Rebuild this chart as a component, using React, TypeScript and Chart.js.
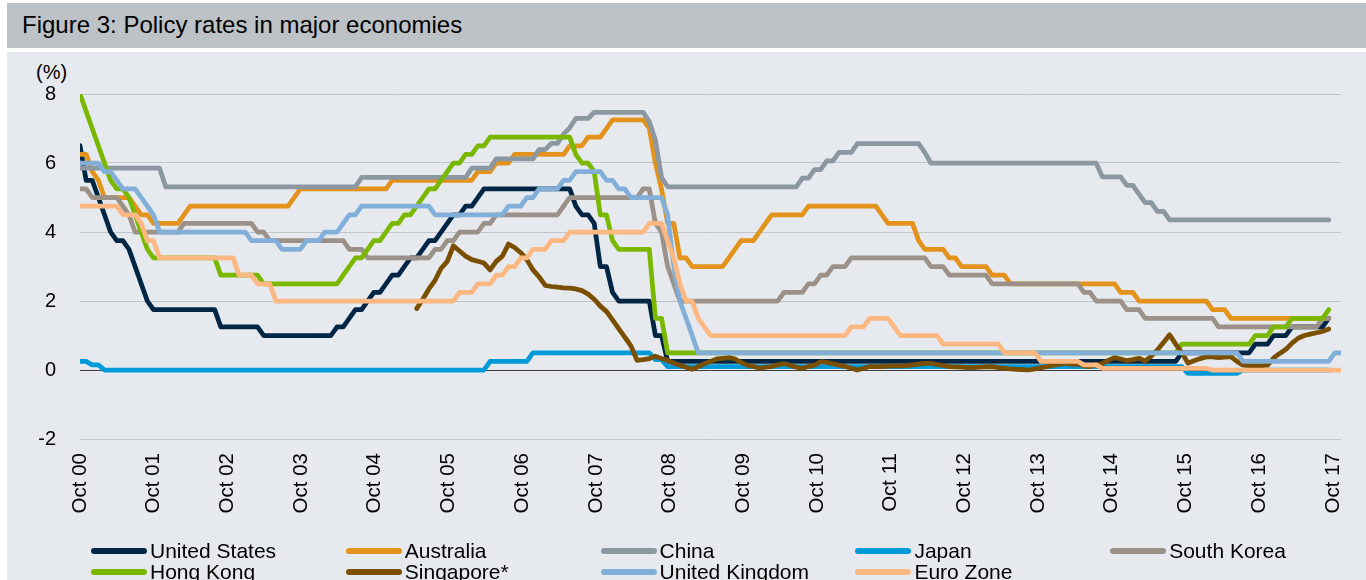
import React, { useEffect, useRef } from "react";
import { Chart, registerables } from "chart.js";

Chart.register(...registerables);

const FONT = "'Liberation Sans', Arial, Helvetica, sans-serif";

// x positions are month indices; tick labels as printed on the original axis
const TICK_LABELS = [
  "Oct 00", "Oct 01", "Oct 02", "Oct 03", "Oct 04", "Oct 05", "Oct 06", "Oct 07", "Oct 08",
  "Oct 09", "Oct 10", "Oct 11", "Oct 12", "Oct 13", "Oct 14", "Oct 15", "Oct 16", "Oct 17",
];
const TICK_STEP = 12.04;
const X_MAX = 206;

// monthly policy rates (%), first value = first point of the chart
const US = [
  6.5,
  5.5, 5.5, 5.0, 4.5, 4.0, 3.75, 3.75, 3.5, 3.0, 2.5, 2.0, 1.75,
  1.75, 1.75, 1.75, 1.75, 1.75, 1.75, 1.75, 1.75, 1.75, 1.75, 1.25, 1.25,
  1.25, 1.25, 1.25, 1.25, 1.25, 1.0, 1.0, 1.0, 1.0, 1.0, 1.0, 1.0,
  1.0, 1.0, 1.0, 1.0, 1.0, 1.25, 1.25, 1.5, 1.75, 1.75, 2.0, 2.25,
  2.25, 2.5, 2.75, 2.75, 3.0, 3.25, 3.25, 3.5, 3.75, 3.75, 4.0, 4.25,
  4.5, 4.5, 4.75, 4.75, 5.0, 5.25, 5.25, 5.25, 5.25, 5.25, 5.25, 5.25,
  5.25, 5.25, 5.25, 5.25, 5.25, 5.25, 5.25, 5.25, 4.75, 4.5, 4.5, 4.25,
  3.0, 3.0, 2.25, 2.0, 2.0, 2.0, 2.0, 2.0, 2.0, 1.0, 1.0, 0.25,
  0.25, 0.25, 0.25, 0.25, 0.25, 0.25, 0.25, 0.25, 0.25, 0.25, 0.25, 0.25,
  0.25, 0.25, 0.25, 0.25, 0.25, 0.25, 0.25, 0.25, 0.25, 0.25, 0.25, 0.25,
  0.25, 0.25, 0.25, 0.25, 0.25, 0.25, 0.25, 0.25, 0.25, 0.25, 0.25, 0.25,
  0.25, 0.25, 0.25, 0.25, 0.25, 0.25, 0.25, 0.25, 0.25, 0.25, 0.25, 0.25,
  0.25, 0.25, 0.25, 0.25, 0.25, 0.25, 0.25, 0.25, 0.25, 0.25, 0.25, 0.25,
  0.25, 0.25, 0.25, 0.25, 0.25, 0.25, 0.25, 0.25, 0.25, 0.25, 0.25, 0.25,
  0.25, 0.25, 0.25, 0.25, 0.25, 0.25, 0.25, 0.25, 0.25, 0.25, 0.25, 0.5,
  0.5, 0.5, 0.5, 0.5, 0.5, 0.5, 0.5, 0.5, 0.5, 0.5, 0.5, 0.75,
  0.75, 0.75, 1.0, 1.0, 1.0, 1.25, 1.25, 1.25, 1.25, 1.25, 1.25, 1.5,
];

const AUSTRALIA = [
  6.25,
  6.25, 5.75, 5.5, 5.0, 5.0, 5.0, 5.0, 5.0, 4.75, 4.5, 4.5, 4.25,
  4.25, 4.25, 4.25, 4.25, 4.5, 4.75, 4.75, 4.75, 4.75, 4.75, 4.75, 4.75,
  4.75, 4.75, 4.75, 4.75, 4.75, 4.75, 4.75, 4.75, 4.75, 4.75, 5.0, 5.25,
  5.25, 5.25, 5.25, 5.25, 5.25, 5.25, 5.25, 5.25, 5.25, 5.25, 5.25, 5.25,
  5.25, 5.25, 5.5, 5.5, 5.5, 5.5, 5.5, 5.5, 5.5, 5.5, 5.5, 5.5,
  5.5, 5.5, 5.5, 5.5, 5.75, 5.75, 5.75, 6.0, 6.0, 6.0, 6.25, 6.25,
  6.25, 6.25, 6.25, 6.25, 6.25, 6.25, 6.25, 6.5, 6.5, 6.5, 6.75, 6.75,
  6.75, 7.0, 7.25, 7.25, 7.25, 7.25, 7.25, 7.25, 7.0, 6.0, 5.25, 4.25,
  4.25, 3.25, 3.25, 3.0, 3.0, 3.0, 3.0, 3.0, 3.0, 3.25, 3.5, 3.75,
  3.75, 3.75, 4.0, 4.25, 4.5, 4.5, 4.5, 4.5, 4.5, 4.5, 4.75, 4.75,
  4.75, 4.75, 4.75, 4.75, 4.75, 4.75, 4.75, 4.75, 4.75, 4.75, 4.5, 4.25,
  4.25, 4.25, 4.25, 4.25, 3.75, 3.5, 3.5, 3.5, 3.5, 3.25, 3.25, 3.0,
  3.0, 3.0, 3.0, 3.0, 2.75, 2.75, 2.75, 2.5, 2.5, 2.5, 2.5, 2.5,
  2.5, 2.5, 2.5, 2.5, 2.5, 2.5, 2.5, 2.5, 2.5, 2.5, 2.5, 2.5,
  2.5, 2.25, 2.25, 2.25, 2.0, 2.0, 2.0, 2.0, 2.0, 2.0, 2.0, 2.0,
  2.0, 2.0, 2.0, 2.0, 1.75, 1.75, 1.75, 1.5, 1.5, 1.5, 1.5, 1.5,
  1.5, 1.5, 1.5, 1.5, 1.5, 1.5, 1.5, 1.5, 1.5, 1.5, 1.5, 1.5,
];

const CHINA = [
  5.85,
  5.85, 5.85, 5.85, 5.85, 5.85, 5.85, 5.85, 5.85, 5.85, 5.85, 5.85, 5.85,
  5.85, 5.31, 5.31, 5.31, 5.31, 5.31, 5.31, 5.31, 5.31, 5.31, 5.31, 5.31,
  5.31, 5.31, 5.31, 5.31, 5.31, 5.31, 5.31, 5.31, 5.31, 5.31, 5.31, 5.31,
  5.31, 5.31, 5.31, 5.31, 5.31, 5.31, 5.31, 5.31, 5.31, 5.58, 5.58, 5.58,
  5.58, 5.58, 5.58, 5.58, 5.58, 5.58, 5.58, 5.58, 5.58, 5.58, 5.58, 5.58,
  5.58, 5.58, 5.58, 5.85, 5.85, 5.85, 5.85, 6.12, 6.12, 6.12, 6.12, 6.12,
  6.12, 6.12, 6.39, 6.39, 6.57, 6.57, 6.84, 7.02, 7.29, 7.29, 7.29, 7.47,
  7.47, 7.47, 7.47, 7.47, 7.47, 7.47, 7.47, 7.47, 7.2, 6.66, 5.58, 5.31,
  5.31, 5.31, 5.31, 5.31, 5.31, 5.31, 5.31, 5.31, 5.31, 5.31, 5.31, 5.31,
  5.31, 5.31, 5.31, 5.31, 5.31, 5.31, 5.31, 5.31, 5.31, 5.56, 5.56, 5.81,
  5.81, 6.06, 6.06, 6.31, 6.31, 6.31, 6.56, 6.56, 6.56, 6.56, 6.56, 6.56,
  6.56, 6.56, 6.56, 6.56, 6.56, 6.31, 6.0, 6.0, 6.0, 6.0, 6.0, 6.0,
  6.0, 6.0, 6.0, 6.0, 6.0, 6.0, 6.0, 6.0, 6.0, 6.0, 6.0, 6.0,
  6.0, 6.0, 6.0, 6.0, 6.0, 6.0, 6.0, 6.0, 6.0, 6.0, 5.6, 5.6,
  5.6, 5.6, 5.35, 5.35, 5.1, 4.85, 4.85, 4.6, 4.6, 4.35, 4.35, 4.35,
  4.35, 4.35, 4.35, 4.35, 4.35, 4.35, 4.35, 4.35, 4.35, 4.35, 4.35, 4.35,
  4.35, 4.35, 4.35, 4.35, 4.35, 4.35, 4.35, 4.35, 4.35, 4.35, 4.35, 4.35,
];

const JAPAN = [
  0.25,
  0.25, 0.15, 0.15, 0.0, 0.0, 0.0, 0.0, 0.0, 0.0, 0.0, 0.0, 0.0,
  0.0, 0.0, 0.0, 0.0, 0.0, 0.0, 0.0, 0.0, 0.0, 0.0, 0.0, 0.0,
  0.0, 0.0, 0.0, 0.0, 0.0, 0.0, 0.0, 0.0, 0.0, 0.0, 0.0, 0.0,
  0.0, 0.0, 0.0, 0.0, 0.0, 0.0, 0.0, 0.0, 0.0, 0.0, 0.0, 0.0,
  0.0, 0.0, 0.0, 0.0, 0.0, 0.0, 0.0, 0.0, 0.0, 0.0, 0.0, 0.0,
  0.0, 0.0, 0.0, 0.0, 0.0, 0.0, 0.25, 0.25, 0.25, 0.25, 0.25, 0.25,
  0.25, 0.5, 0.5, 0.5, 0.5, 0.5, 0.5, 0.5, 0.5, 0.5, 0.5, 0.5,
  0.5, 0.5, 0.5, 0.5, 0.5, 0.5, 0.5, 0.5, 0.5, 0.3, 0.3, 0.1,
  0.1, 0.1, 0.1, 0.1, 0.1, 0.1, 0.1, 0.1, 0.1, 0.1, 0.1, 0.1,
  0.1, 0.1, 0.1, 0.1, 0.1, 0.1, 0.1, 0.1, 0.1, 0.1, 0.1, 0.1,
  0.1, 0.1, 0.1, 0.1, 0.1, 0.1, 0.1, 0.1, 0.1, 0.1, 0.1, 0.1,
  0.1, 0.1, 0.1, 0.1, 0.1, 0.1, 0.1, 0.1, 0.1, 0.1, 0.1, 0.1,
  0.1, 0.1, 0.1, 0.1, 0.1, 0.1, 0.1, 0.1, 0.1, 0.1, 0.1, 0.1,
  0.1, 0.1, 0.1, 0.1, 0.1, 0.1, 0.1, 0.1, 0.1, 0.1, 0.1, 0.1,
  0.1, 0.1, 0.1, 0.1, 0.1, 0.1, 0.1, 0.1, 0.1, 0.1, 0.1, 0.1,
  -0.1, -0.1, -0.1, -0.1, -0.1, -0.1, -0.1, -0.1, -0.1, 0.0, 0.0, 0.0,
  0.0, 0.0, 0.0, 0.0, 0.0, 0.0, 0.0, 0.0, 0.0, 0.0, 0.0, 0.0,
];

const SOUTH_KOREA = [
  5.25,
  5.25, 5.0, 5.0, 5.0, 5.0, 5.0, 4.75, 4.5, 4.0, 4.0, 4.0, 4.0,
  4.0, 4.0, 4.0, 4.0, 4.25, 4.25, 4.25, 4.25, 4.25, 4.25, 4.25, 4.25,
  4.25, 4.25, 4.25, 4.25, 4.0, 4.0, 3.75, 3.75, 3.75, 3.75, 3.75, 3.75,
  3.75, 3.75, 3.75, 3.75, 3.75, 3.75, 3.75, 3.5, 3.5, 3.5, 3.25, 3.25,
  3.25, 3.25, 3.25, 3.25, 3.25, 3.25, 3.25, 3.25, 3.25, 3.5, 3.5, 3.75,
  3.75, 4.0, 4.0, 4.0, 4.0, 4.25, 4.25, 4.5, 4.5, 4.5, 4.5, 4.5,
  4.5, 4.5, 4.5, 4.5, 4.5, 4.5, 4.75, 5.0, 5.0, 5.0, 5.0, 5.0,
  5.0, 5.0, 5.0, 5.0, 5.0, 5.0, 5.0, 5.25, 5.25, 4.25, 4.0, 3.0,
  2.5, 2.0, 2.0, 2.0, 2.0, 2.0, 2.0, 2.0, 2.0, 2.0, 2.0, 2.0,
  2.0, 2.0, 2.0, 2.0, 2.0, 2.0, 2.25, 2.25, 2.25, 2.25, 2.5, 2.5,
  2.75, 2.75, 3.0, 3.0, 3.0, 3.25, 3.25, 3.25, 3.25, 3.25, 3.25, 3.25,
  3.25, 3.25, 3.25, 3.25, 3.25, 3.25, 3.0, 3.0, 3.0, 2.75, 2.75, 2.75,
  2.75, 2.75, 2.75, 2.75, 2.5, 2.5, 2.5, 2.5, 2.5, 2.5, 2.5, 2.5,
  2.5, 2.5, 2.5, 2.5, 2.5, 2.5, 2.5, 2.25, 2.25, 2.0, 2.0, 2.0,
  2.0, 2.0, 1.75, 1.75, 1.75, 1.5, 1.5, 1.5, 1.5, 1.5, 1.5, 1.5,
  1.5, 1.5, 1.5, 1.5, 1.5, 1.25, 1.25, 1.25, 1.25, 1.25, 1.25, 1.25,
  1.25, 1.25, 1.25, 1.25, 1.25, 1.25, 1.25, 1.25, 1.25, 1.25, 1.5, 1.5,
];

const HONG_KONG = [
  8.0,
  7.5, 7.0, 6.5, 6.0, 5.5, 5.25, 5.25, 5.0, 4.5, 4.0, 3.5, 3.25,
  3.25, 3.25, 3.25, 3.25, 3.25, 3.25, 3.25, 3.25, 3.25, 3.25, 2.75, 2.75,
  2.75, 2.75, 2.75, 2.75, 2.75, 2.5, 2.5, 2.5, 2.5, 2.5, 2.5, 2.5,
  2.5, 2.5, 2.5, 2.5, 2.5, 2.5, 2.75, 3.0, 3.25, 3.25, 3.5, 3.75,
  3.75, 4.0, 4.25, 4.25, 4.5, 4.5, 4.75, 5.0, 5.25, 5.25, 5.5, 5.75,
  6.0, 6.0, 6.25, 6.25, 6.5, 6.5, 6.75, 6.75, 6.75, 6.75, 6.75, 6.75,
  6.75, 6.75, 6.75, 6.75, 6.75, 6.75, 6.75, 6.75, 6.25, 6.0, 6.0, 5.75,
  4.5, 4.5, 3.75, 3.5, 3.5, 3.5, 3.5, 3.5, 3.5, 1.5, 1.5, 0.5,
  0.5, 0.5, 0.5, 0.5, 0.5, 0.5, 0.5, 0.5, 0.5, 0.5, 0.5, 0.5,
  0.5, 0.5, 0.5, 0.5, 0.5, 0.5, 0.5, 0.5, 0.5, 0.5, 0.5, 0.5,
  0.5, 0.5, 0.5, 0.5, 0.5, 0.5, 0.5, 0.5, 0.5, 0.5, 0.5, 0.5,
  0.5, 0.5, 0.5, 0.5, 0.5, 0.5, 0.5, 0.5, 0.5, 0.5, 0.5, 0.5,
  0.5, 0.5, 0.5, 0.5, 0.5, 0.5, 0.5, 0.5, 0.5, 0.5, 0.5, 0.5,
  0.5, 0.5, 0.5, 0.5, 0.5, 0.5, 0.5, 0.5, 0.5, 0.5, 0.5, 0.5,
  0.5, 0.5, 0.5, 0.5, 0.5, 0.5, 0.5, 0.5, 0.5, 0.5, 0.5, 0.75,
  0.75, 0.75, 0.75, 0.75, 0.75, 0.75, 0.75, 0.75, 0.75, 0.75, 0.75, 1.0,
  1.0, 1.0, 1.25, 1.25, 1.25, 1.5, 1.5, 1.5, 1.5, 1.5, 1.5, 1.75,
];

const SINGAPORE_START = 55;
const SINGAPORE = [
  1.78, 2.05, 2.35, 2.6, 2.95, 3.15, 3.6, 3.45, 3.3, 3.2,
  3.15, 3.1, 2.9, 3.15, 3.3, 3.65, 3.55, 3.4, 3.2, 2.9,
  2.7, 2.45, 2.42, 2.4, 2.38, 2.37, 2.35, 2.3, 2.2, 2.05,
  1.85, 1.7, 1.45, 1.2, 0.95, 0.7, 0.28, 0.3, 0.33, 0.4,
  0.33, 0.28, 0.2, 0.14, 0.08, 0.02, 0.1, 0.18, 0.25, 0.32,
  0.34, 0.36, 0.32, 0.22, 0.14, 0.1, 0.05, 0.08, 0.1, 0.15,
  0.19, 0.14, 0.08, 0.05, 0.1, 0.14, 0.24, 0.22, 0.18, 0.14,
  0.1, 0.05, 0.0, 0.05, 0.1, 0.1, 0.1, 0.11, 0.12, 0.12,
  0.13, 0.15, 0.17, 0.19, 0.19, 0.16, 0.13, 0.1, 0.09, 0.08,
  0.07, 0.07, 0.08, 0.09, 0.1, 0.07, 0.05, 0.03, 0.02, 0.01,
  0.0, 0.03, 0.07, 0.1, 0.14, 0.17, 0.2, 0.16, 0.18, 0.12,
  0.1, 0.15, 0.19, 0.28, 0.36, 0.32, 0.27, 0.3, 0.34, 0.26,
  0.4, 0.58, 0.8, 1.02, 0.75, 0.5, 0.2, 0.27, 0.33, 0.38,
  0.38, 0.36, 0.37, 0.39, 0.25, 0.14, 0.13, 0.13, 0.13, 0.14,
  0.35, 0.48, 0.6, 0.78, 0.92, 1.0, 1.04, 1.08, 1.12, 1.19,
];

const UNITED_KINGDOM = [
  6.0, 6.0, 6.0,
  6.0, 5.75, 5.75, 5.5, 5.25, 5.25, 5.25, 5.0, 4.75, 4.5, 4.0, 4.0,
  4.0, 4.0, 4.0, 4.0, 4.0, 4.0, 4.0, 4.0, 4.0, 4.0, 4.0, 4.0,
  4.0, 3.75, 3.75, 3.75, 3.75, 3.75, 3.5, 3.5, 3.5, 3.5, 3.75, 3.75,
  3.75, 4.0, 4.0, 4.0, 4.25, 4.5, 4.5, 4.75, 4.75, 4.75, 4.75, 4.75,
  4.75, 4.75, 4.75, 4.75, 4.75, 4.75, 4.75, 4.5, 4.5, 4.5, 4.5, 4.5,
  4.5, 4.5, 4.5, 4.5, 4.5, 4.5, 4.5, 4.75, 4.75, 4.75, 5.0, 5.0,
  5.25, 5.25, 5.25, 5.25, 5.5, 5.5, 5.75, 5.75, 5.75, 5.75, 5.75, 5.5,
  5.5, 5.25, 5.25, 5.0, 5.0, 5.0, 5.0, 5.0, 5.0, 4.5, 3.0, 2.0,
  1.5, 1.0, 0.5, 0.5, 0.5, 0.5, 0.5, 0.5, 0.5, 0.5, 0.5, 0.5,
  0.5, 0.5, 0.5, 0.5, 0.5, 0.5, 0.5, 0.5, 0.5, 0.5, 0.5, 0.5,
  0.5, 0.5, 0.5, 0.5, 0.5, 0.5, 0.5, 0.5, 0.5, 0.5, 0.5, 0.5,
  0.5, 0.5, 0.5, 0.5, 0.5, 0.5, 0.5, 0.5, 0.5, 0.5, 0.5, 0.5,
  0.5, 0.5, 0.5, 0.5, 0.5, 0.5, 0.5, 0.5, 0.5, 0.5, 0.5, 0.5,
  0.5, 0.5, 0.5, 0.5, 0.5, 0.5, 0.5, 0.5, 0.5, 0.5, 0.5, 0.5,
  0.5, 0.5, 0.5, 0.5, 0.5, 0.5, 0.5, 0.5, 0.5, 0.5, 0.5, 0.5,
  0.5, 0.5, 0.5, 0.5, 0.5, 0.5, 0.5, 0.25, 0.25, 0.25, 0.25, 0.25,
  0.25, 0.25, 0.25, 0.25, 0.25, 0.25, 0.25, 0.25, 0.25, 0.25, 0.5, 0.5,
];

const EURO_ZONE = [
  4.75, 4.75, 4.75,
  4.75, 4.75, 4.75, 4.75, 4.5, 4.5, 4.5, 4.25, 3.75, 3.75, 3.25, 3.25,
  3.25, 3.25, 3.25, 3.25, 3.25, 3.25, 3.25, 3.25, 3.25, 3.25, 3.25, 2.75,
  2.75, 2.75, 2.5, 2.5, 2.5, 2.0, 2.0, 2.0, 2.0, 2.0, 2.0, 2.0,
  2.0, 2.0, 2.0, 2.0, 2.0, 2.0, 2.0, 2.0, 2.0, 2.0, 2.0, 2.0,
  2.0, 2.0, 2.0, 2.0, 2.0, 2.0, 2.0, 2.0, 2.0, 2.0, 2.0, 2.25,
  2.25, 2.25, 2.5, 2.5, 2.5, 2.75, 2.75, 3.0, 3.0, 3.25, 3.25, 3.5,
  3.5, 3.5, 3.75, 3.75, 3.75, 4.0, 4.0, 4.0, 4.0, 4.0, 4.0, 4.0,
  4.0, 4.0, 4.0, 4.0, 4.0, 4.0, 4.25, 4.25, 4.25, 3.75, 3.25, 2.5,
  2.0, 2.0, 1.5, 1.25, 1.0, 1.0, 1.0, 1.0, 1.0, 1.0, 1.0, 1.0,
  1.0, 1.0, 1.0, 1.0, 1.0, 1.0, 1.0, 1.0, 1.0, 1.0, 1.0, 1.0,
  1.0, 1.0, 1.0, 1.25, 1.25, 1.25, 1.5, 1.5, 1.5, 1.5, 1.25, 1.0,
  1.0, 1.0, 1.0, 1.0, 1.0, 1.0, 0.75, 0.75, 0.75, 0.75, 0.75, 0.75,
  0.75, 0.75, 0.75, 0.75, 0.5, 0.5, 0.5, 0.5, 0.5, 0.5, 0.25, 0.25,
  0.25, 0.25, 0.25, 0.25, 0.25, 0.15, 0.15, 0.15, 0.05, 0.05, 0.05, 0.05,
  0.05, 0.05, 0.05, 0.05, 0.05, 0.05, 0.05, 0.05, 0.05, 0.05, 0.05, 0.05,
  0.05, 0.05, 0.0, 0.0, 0.0, 0.0, 0.0, 0.0, 0.0, 0.0, 0.0, 0.0,
  0.0, 0.0, 0.0, 0.0, 0.0, 0.0, 0.0, 0.0, 0.0, 0.0, 0.0, 0.0,
];

const SERIES = [
  { name: "United States", color: "#012645", data: US, start: 0 },
  { name: "Australia", color: "#e3931b", data: AUSTRALIA, start: 0 },
  { name: "China", color: "#8b98a2", data: CHINA, start: 0 },
  { name: "Japan", color: "#009ad9", data: JAPAN, start: 0 },
  { name: "South Korea", color: "#9b9189", data: SOUTH_KOREA, start: 0 },
  { name: "Hong Kong", color: "#7ab800", data: HONG_KONG, start: 0 },
  { name: "Singapore*", color: "#7a4f00", data: SINGAPORE, start: SINGAPORE_START },
  { name: "United Kingdom", color: "#82afd9", data: UNITED_KINGDOM, start: 0 },
  { name: "Euro Zone", color: "#fdb882", data: EURO_ZONE, start: 0 },
];

export default function App() {
  const canvasRef = useRef<HTMLCanvasElement | null>(null);

  useEffect(() => {
    const canvas = canvasRef.current;
    if (!canvas) return;
    const datasets = [...SERIES].reverse().map((s) => ({
      label: s.name,
      data: s.data.map((v, i) => ({ x: s.start + i, y: v })),
      borderColor: s.color,
      backgroundColor: s.color,
      borderWidth: 4.75,
      pointRadius: 0,
      pointHoverRadius: 0,
      tension: 0,
      fill: false,
      borderJoinStyle: "round" as const,
      borderCapStyle: "round" as const,
    }));
    const chart = new Chart(canvas, {
      type: "line",
      data: { datasets },
      options: {
        animation: false,
        responsive: true,
        maintainAspectRatio: false,
        events: [],
        layout: { padding: { left: 0, right: 25, top: 42, bottom: 0 } },
        plugins: { legend: { display: false }, tooltip: { enabled: false } },
        scales: {
          x: {
            type: "linear",
            min: 0,
            max: X_MAX,
            afterBuildTicks: (scale: any) => {
              scale.ticks = TICK_LABELS.map((_, k) => ({ value: k * TICK_STEP }));
            },
            afterFit: (scale: any) => {
              scale.height = 101;
              scale.paddingLeft = 0;
              scale.paddingRight = 0;
            },
            grid: { display: false, drawTicks: false },
            border: { display: false },
            ticks: {
              autoSkip: false,
              maxRotation: 90,
              minRotation: 90,
              padding: 14,
              color: "#000",
              font: { size: 20.5, family: FONT },
              callback: (_v: any, i: number) => TICK_LABELS[i],
            },
          },
          y: {
            min: -2,
            max: 8,
            afterFit: (scale: any) => {
              scale.width = 80;
            },
            ticks: {
              stepSize: 2,
              padding: 24,
              color: "#000",
              font: { size: 20, family: FONT },
            },
            grid: {
              drawTicks: false,
              lineWidth: 1,
              color: (c: any) => (c.tick && c.tick.value === 0 ? "#3d3d3d" : "#c2c5c9"),
            },
            border: { display: false },
          },
        },
      },
    });
    return () => chart.destroy();
  }, []);

  const colW = 254.8;
  return (
    <div
      style={{
        position: "fixed",
        left: 0,
        top: 0,
        width: 1366,
        height: 580,
        background: "#ffffff",
        overflow: "hidden",
        fontFamily: FONT,
        color: "#000",
      }}
    >
      <div style={{ position: "absolute", left: 7, top: 3, width: 1359, height: 45, background: "#bdc2c7" }} />
      <div style={{ position: "absolute", left: 22, top: 13, fontSize: 24, lineHeight: "24px", whiteSpace: "nowrap" }}>
        Figure 3: Policy rates in major economies
      </div>
      <div style={{ position: "absolute", left: 7, top: 52, width: 1359, height: 528, background: "#e6e9ed" }} />
      <div style={{ position: "absolute", left: 36, top: 62, fontSize: 20, lineHeight: "20px" }}>(%)</div>
      <div style={{ position: "absolute", left: 0, top: 52, width: 1366, height: 488 }}>
        <canvas ref={canvasRef} />
      </div>
      {SERIES.map((s, idx) => {
        const row = Math.floor(idx / 5);
        const col = idx % 5;
        return (
          <div
            key={s.name}
            style={{
              position: "absolute",
              left: 91 + col * colW,
              top: 540 + row * 21,
              height: 21,
              whiteSpace: "nowrap",
            }}
          >
            <div
              style={{
                position: "absolute",
                left: 0,
                top: 8,
                width: 56,
                height: 5.5,
                borderRadius: 3,
                background: s.color,
              }}
            />
            <span style={{ position: "absolute", left: 59, top: 0, fontSize: 21, lineHeight: "21px" }}>{s.name}</span>
          </div>
        );
      })}
    </div>
  );
}
